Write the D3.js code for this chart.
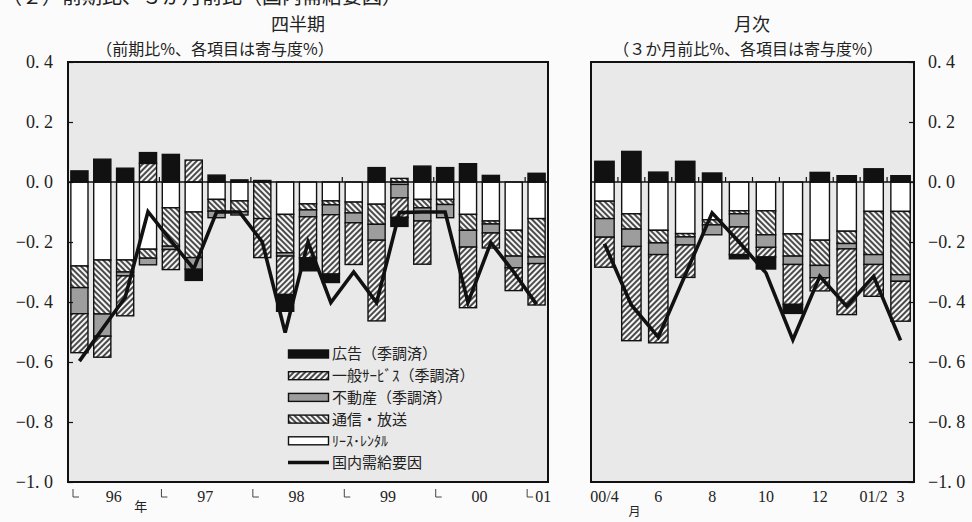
<!DOCTYPE html>
<html><head><meta charset="utf-8">
<script src="https://cdn.jsdelivr.net/npm/d3@7"></script>
<style>
html,body{margin:0;padding:0;background:#fbfbfb;}
svg{display:block;}
.jp{font-family:"Noto Sans CJK JP","Noto Sans",sans-serif;}
.num{font-family:"Liberation Serif","DejaVu Serif",serif;}
</style></head>
<body>
<svg id="chart" width="972" height="522"></svg>
<script>
// ---------- DATA ----------
const quarters = ["1996Q1","1996Q2","1996Q3","1996Q4","1997Q1","1997Q2","1997Q3","1997Q4",
  "1998Q1","1998Q2","1998Q3","1998Q4","1999Q1","1999Q2","1999Q3","1999Q4",
  "2000Q1","2000Q2","2000Q3","2000Q4","2001Q1"];
const yearLabels = ["96","97","98","99","00","01"];
const qLease   = [-0.28,-0.26,-0.26,-0.224,-0.086,-0.10,-0.058,-0.063,0,-0.108,-0.073,-0.063,-0.067,-0.074,-0.008,-0.058,-0.058,-0.108,-0.13,-0.161,-0.122];
const qTsushin = [-0.072,-0.18,-0.04,-0.03,-0.128,-0.152,-0.039,-0.036,-0.122,-0.128,-0.02,-0.013,-0.036,-0.067,0.012,-0.028,-0.017,-0.053,-0.01,-0.086,-0.128];
const qFudosan = [-0.087,-0.074,-0.013,-0.022,-0.011,-0.039,-0.022,-0.011,0,-0.011,-0.023,-0.033,-0.033,-0.053,-0.045,-0.044,-0.044,-0.056,-0.03,-0.039,-0.022];
const qIppan   = [-0.13,-0.07,-0.133,0.062,-0.067,0.073,0,0,-0.13,-0.128,-0.137,-0.198,-0.139,-0.269,-0.065,-0.144,0,-0.202,-0.05,-0.076,-0.138];
const qKokoku  = [0.037,0.076,0.046,0.036,0.092,-0.037,0.023,0.007,0.005,-0.056,-0.043,-0.028,0,0.048,-0.03,0.053,0.048,0.061,0.022,0,0.029];
const qLine    = [-0.597,-0.49,-0.385,-0.099,-0.195,-0.29,-0.1,-0.1,-0.2,-0.502,-0.2,-0.402,-0.30,-0.402,-0.102,-0.1,-0.1,-0.402,-0.202,-0.30,-0.408];

const months = ["00/4","00/5","00/6","00/7","00/8","00/9","00/10","00/11","00/12","01/1","01/2","01/3"];
const monthLabels = ["00/4","","6","","8","","10","","12","","01/2","3"];
const mLease   = [-0.064,-0.106,-0.161,-0.172,-0.126,-0.096,-0.096,-0.173,-0.194,-0.164,-0.098,-0.098];
const mTsushin = [-0.058,-0.051,-0.042,-0.011,-0.017,-0.01,-0.08,-0.074,-0.084,-0.041,-0.144,-0.211];
const mFudosan = [-0.062,-0.058,-0.039,-0.027,-0.033,-0.044,-0.042,-0.028,-0.041,-0.018,-0.033,-0.022];
const mIppan   = [-0.10,-0.314,-0.294,-0.108,0,-0.092,-0.032,-0.133,-0.044,-0.219,-0.106,-0.133];
const mKokoku  = [0.069,0.102,0.033,0.069,0.03,-0.014,-0.04,-0.03,0.032,0.021,0.044,0.021];
const mLine    = [-0.206,-0.41,-0.517,-0.31,-0.103,-0.2,-0.303,-0.526,-0.314,-0.414,-0.314,-0.528];

const yTicks = [0.4,0.2,0,-0.2,-0.4,-0.6,-0.8,-1.0];
const seriesKeys = ["lease","tsushin","fudosan","ippan","kokoku"];
const legendNames = {kokoku:"広告（季調済）", ippan:"一般ｻｰﾋﾞｽ（季調済）", fudosan:"不動産（季調済）", tsushin:"通信・放送", lease:"ﾘｰｽ･ﾚﾝﾀﾙ", line:"国内需給要因"};

// ---------- SETUP ----------
const svg = d3.select("#chart");
const defs = svg.append("defs");
function hatch(id, angle){
  const p = defs.append("pattern").attr("id",id).attr("patternUnits","userSpaceOnUse")
    .attr("width",4).attr("height",4).attr("patternTransform",`rotate(${angle})`);
  p.append("rect").attr("width",4).attr("height",4).attr("fill","#f6f6f6");
  p.append("line").attr("x1",1).attr("y1",0).attr("x2",1).attr("y2",4).attr("stroke","#111").attr("stroke-width",1.5);
}
hatch("hatchFwd",45);   // ////
hatch("hatchBack",-45); // \\\\
const fills = {lease:"#ffffff", tsushin:"url(#hatchBack)", fudosan:"#9d9d9d", ippan:"url(#hatchFwd)", kokoku:"#111111"};

const yTop = 62, yBot = 482;
const y = d3.scaleLinear().domain([-1.0,0.4]).range([yBot,yTop]);
const fmt = v => (v<0?"−":"") + Math.abs(v).toFixed(1).replace(".",". ");

function panel(o){
  const g = svg.append("g");
  g.append("rect").attr("x",o.x0).attr("y",yTop).attr("width",o.x1-o.x0).attr("height",yBot-yTop).attr("fill","#e9e9e9");
  const x = d3.scaleBand().domain(o.cats).range([o.x0,o.x1]).paddingInner(o.pad).paddingOuter(o.pad/2);
  const rows = o.cats.map((c,i)=>({cat:c, lease:o.lease[i], tsushin:o.tsushin[i], fudosan:o.fudosan[i], ippan:o.ippan[i], kokoku:o.kokoku[i]}));
  const stacked = d3.stack().keys(seriesKeys).offset(d3.stackOffsetDiverging)(rows);
  stacked.forEach(s=>{
    g.append("g").selectAll("rect").data(s.filter(d=>d[1]!==d[0])).join("rect")
      .attr("x",d=>x(d.data.cat)).attr("width",x.bandwidth())
      .attr("y",d=>y(Math.max(d[0],d[1]))).attr("height",d=>Math.abs(y(d[0])-y(d[1])))
      .attr("fill",fills[s.key]).attr("stroke","#111").attr("stroke-width",1.4);
  });
  // zero line with small upward ticks
  g.append("line").attr("x1",o.x0).attr("x2",o.x1).attr("y1",y(0)).attr("y2",y(0)).attr("stroke","#111").attr("stroke-width",1.6);
  const half = (x.step()-x.bandwidth())/2;
  o.tickIdx.forEach(i=>{
    const bx = x(o.cats[i]) - half;
    g.append("line").attr("x1",bx).attr("x2",bx).attr("y1",y(0)).attr("y2",y(0)-5).attr("stroke","#111").attr("stroke-width",1.2);
  });
  // line
  const line = d3.line().x((d,i)=>x(o.cats[i])+x.bandwidth()/2).y(d=>y(d));
  g.append("path").datum(o.line).attr("d",line).attr("fill","none").attr("stroke","#111").attr("stroke-width",3.6).attr("stroke-linejoin","miter");
  // y axis
  const ax = o.side==="left" ? d3.axisLeft(y) : d3.axisRight(y);
  ax.tickValues(yTicks).tickSize(-5).tickPadding(o.side==="left"?15:14).tickFormat(fmt);
  const ag = g.append("g").attr("class","num").attr("transform",`translate(${o.side==="left"?o.x0:o.x1},0)`).call(ax);
  ag.select(".domain").remove();
  ag.selectAll(".tick line").attr("stroke","#111").attr("stroke-width",1.2);
  ag.selectAll(".tick text").attr("font-size",18).attr("fill","#222").attr("font-family","Liberation Serif, serif");
  // frame
  g.append("rect").attr("x",o.x0).attr("y",yTop).attr("width",o.x1-o.x0).attr("height",yBot-yTop).attr("fill","none").attr("stroke","#111").attr("stroke-width",2);
  return x;
}

// ---------- LEFT PANEL ----------
const yearStart = quarters.map((q,i)=>q.endsWith("Q1")?i:-1).filter(i=>i>=0);
const xq = panel({x0:68, x1:548, cats:quarters, pad:0.25, lease:qLease, tsushin:qTsushin, fudosan:qFudosan, ippan:qIppan, kokoku:qKokoku, line:qLine, side:"left", tickIdx:yearStart.filter(i=>i>0)});
const qStep = xq.step(), qHalf = (xq.step()-xq.bandwidth())/2;
yearStart.forEach((i,k)=>{
  const bx = xq(quarters[i]) - qHalf;
  const lx = i===0 ? bx+5 : bx+2;
  svg.append("path").attr("d",`M${lx},489V497H${lx+6}`).attr("fill","none").attr("stroke","#444").attr("stroke-width",1);
  const n = quarters.filter(q=>q.startsWith(quarters[i].slice(0,4))).length;
  const cx = n>=4 ? bx + qStep*2 : lx + 16;
  svg.append("text").attr("class","num").attr("x",cx).attr("y",502).attr("text-anchor","middle").attr("font-size",16).attr("fill","#222").text(yearLabels[k]);
  if(k===0) svg.append("text").attr("class","jp").attr("x",cx+27).attr("y",511).attr("text-anchor","middle").attr("font-size",13).attr("fill","#222").text("年");
});

// ---------- RIGHT PANEL ----------
const xm = panel({x0:591, x1:914, cats:months, pad:0.28, lease:mLease, tsushin:mTsushin, fudosan:mFudosan, ippan:mIppan, kokoku:mKokoku, line:mLine, side:"right", tickIdx:months.map((m,i)=>i).filter(i=>i>0)});
months.forEach((m,i)=>{
  if(!monthLabels[i]) return;
  const cx = xm(m)+xm.bandwidth()/2;
  svg.append("text").attr("class","num").attr("x",cx).attr("y",502).attr("text-anchor","middle").attr("font-size",16).attr("fill","#222").text(monthLabels[i]);
  if(i===0) svg.append("text").attr("class","jp").attr("x",cx+30).attr("y",516).attr("text-anchor","middle").attr("font-size",12).attr("fill","#222").text("月");
});

// ---------- TITLES ----------
svg.append("text").attr("class","jp").attr("x",2).attr("y",4).attr("font-size",20).attr("fill","#222").text("（２）前期比、３か月前比（国内需給要因）");
svg.append("text").attr("class","jp").attr("x",298).attr("y",31).attr("text-anchor","middle").attr("font-size",18).attr("fill","#222").text("四半期");
svg.append("text").attr("class","jp").attr("x",752).attr("y",31).attr("text-anchor","middle").attr("font-size",18).attr("fill","#222").text("月次");
svg.append("text").attr("class","jp").attr("x",215).attr("y",55).attr("text-anchor","middle").attr("font-size",16).attr("fill","#222").text("（前期比%、各項目は寄与度%）");
svg.append("text").attr("class","jp").attr("x",748).attr("y",55).attr("text-anchor","middle").attr("font-size",16).attr("fill","#222").text("（３か月前比%、各項目は寄与度%）");

// ---------- LEGEND ----------
const legOrder = ["kokoku","ippan","fudosan","tsushin","lease","line"];
const lg = svg.append("g").attr("transform","translate(288,354)");
legOrder.forEach((k,i)=>{
  const yy = i*21.7;
  if(k==="line"){
    lg.append("line").attr("x1",0).attr("x2",41).attr("y1",yy).attr("y2",yy).attr("stroke","#111").attr("stroke-width",3.6);
  } else {
    lg.append("rect").attr("x",0.5).attr("y",yy-4).attr("width",40).attr("height",8).attr("fill",fills[k]).attr("stroke","#111").attr("stroke-width",1.4);
  }
  lg.append("text").attr("class","jp").attr("x",44).attr("y",yy).attr("dy","0.36em")
    .attr("font-size",k==="lease"?14:15).attr("fill","#222").text(legendNames[k]);
});
</script>
</body></html>
